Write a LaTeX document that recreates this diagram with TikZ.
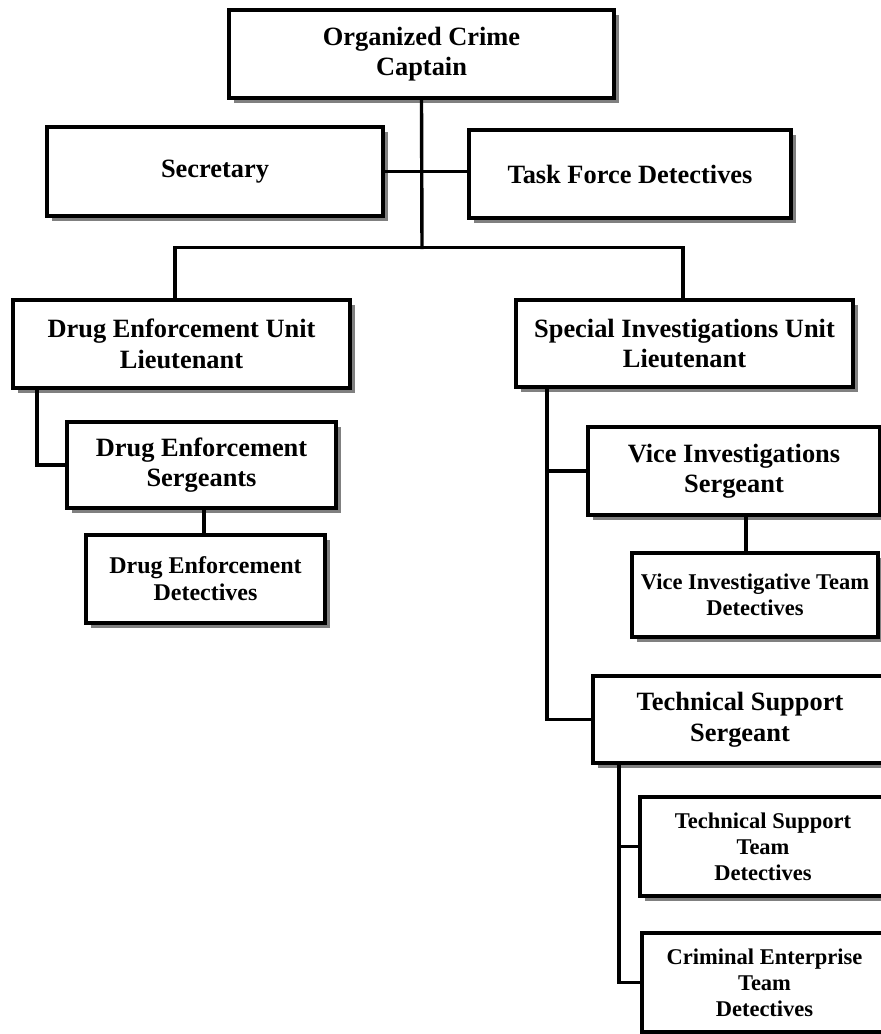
\documentclass[tikz,border=0pt]{standalone}
\usepackage{fontspec}
\setmainfont{Liberation Serif}
\usetikzlibrary{shadows}
\begin{document}
\begin{tikzpicture}[x=1pt,y=-1pt,
  box/.style={draw=black, line width=3.4pt, fill=white, rectangle, inner sep=0pt,
    align=center, font=\bfseries\fontsize{26.4}{30.5}\selectfont,
    drop shadow={shadow xshift=5pt, shadow yshift=-5pt, fill=black!50, opacity=1}},
  smallbox/.style={box, font=\bfseries\fontsize{22.5}{25.5}\selectfont},
  link/.style={line width=3.4pt}]
\clip (0,0) rectangle (881,1034);
\fill[white] (0,0) rectangle (881,1034);
% nodes
\node[box, minimum width=385pt, minimum height=88pt] (cap) at (421.5,54) {Organized Crime\\Captain};
\node[box, minimum width=336pt, minimum height=89pt] (sec) at (215,171.5) {Secretary};
\node[box, minimum width=322pt, minimum height=88pt] (tf) at (630,174) {Task Force Detectives};
\node[box, minimum width=337pt, minimum height=88pt] (del) at (181.5,344) {Drug Enforcement Unit\\Lieutenant};
\node[box, minimum width=269pt, minimum height=86pt] (des) at (201.5,465) {Drug Enforcement\\Sergeants};
\node[smallbox, font=\bfseries\fontsize{24}{27}\selectfont, minimum width=239pt, minimum height=88pt] (ded) at (205.5,579) {Drug Enforcement\\Detectives};
\node[box, minimum width=337pt, minimum height=87pt] (siu) at (684.5,343.5) {Special Investigations Unit\\Lieutenant};
\node[box, minimum width=292pt, minimum height=88pt] (vis) at (734,471) {Vice Investigations\\Sergeant};
\node[smallbox, minimum width=246pt, minimum height=84pt] (vit) at (755,595) {Vice Investigative Team\\Detectives};
\node[box, minimum width=294pt, minimum height=87pt] (tss) at (740,719.5) {Technical Support\\Sergeant};
\node[smallbox, font=\bfseries\fontsize{22.5}{26}\selectfont, minimum width=246pt, minimum height=99pt] (tst) at (763,846.5) {Technical Support\\Team\\Detectives};
\node[smallbox, font=\bfseries\fontsize{22.5}{26}\selectfont, minimum width=245pt, minimum height=99pt] (cet) at (764.5,982.5) {Criminal Enterprise\\Team\\Detectives};
% connectors
\coordinate (bus) at (422,249);
\draw[link] (cap.south) -- (bus);
\draw[link] (sec.east) -- (sec.east -| tf.west);
\draw[link] ([xshift=-6.5pt]del.north) -- ++(0,-51) -| ([xshift=-1.5pt]siu.north);
\draw[link] (del.south -| 37,0) |- (des.west);
\draw[link] (des.south -| 204,0) -- (ded.north -| 204,0);
\draw[link] (siu.south -| 547,0) |- (tss.west);
\draw[link] (vis.west) -- (vis.west -| 547,0);
\draw[link] (vis.south -| 746,0) -- (vit.north -| 746,0);
\draw[link] (tss.south -| 619,0) |- (cet.west);
\draw[link] (tst.west) -- (tst.west -| 619,0);
\end{tikzpicture}
\end{document}
